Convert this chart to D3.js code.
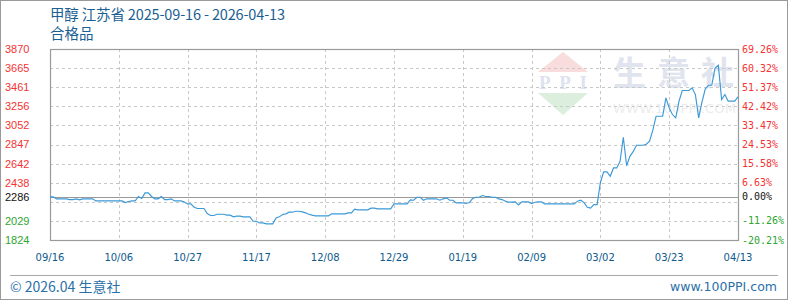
<!DOCTYPE html>
<html><head><meta charset="utf-8">
<script src="https://cdn.jsdelivr.net/npm/d3@7/dist/d3.min.js"></script>
<style>body{margin:0;background:#fff}svg{display:block}</style>
</head><body>
<svg id="c" width="788" height="300"></svg>
<script>
// ---- data ----
const titleText = "甲醇 江苏省 2025-09-16 - 2026-04-13";
const subtitleText = "合格品";
const xTickLabels = ["09/16","10/06","10/27","11/17","12/08","12/29","01/19","02/09","03/02","03/23","04/13"];
const xTickIndex = [0,21,42,63,84,105,126,147,168,189,210];
const leftTickValues = [3870,3665,3461,3256,3052,2847,2642,2438,2286,2029,1824];
const rightTickLabels = ["69.26%","60.32%","51.37%","42.42%","33.47%","24.53%","15.58%","6.63%","0.00%","-11.26%","-20.21%"];
const gridValues = [3665,3461,3256,3052,2847,2642,2438,2233,2029];
const baseValue = 2286;
// daily prices (index 0 = 2025-09-16)
const prices = [
2286,2286,2265,2265,2265,2265,2257,2257,2265,2254,
2265,2265,2265,2265,2243,2243,2243,2243,2243,2243,
2243,2243,2243,2225,2236,2243,2243,2290,2268,2329,
2329,2290,2265,2265,2290,2257,2257,2265,2243,2243,
2243,2232,2211,2211,2175,2161,2161,2161,2108,2086,
2086,2100,2100,2100,2090,2090,2072,2079,2079,2072,
2072,2072,2025,2025,2007,2007,1997,1997,1997,2061,
2072,2097,2104,2122,2122,2132,2132,2125,2115,2100,
2090,2083,2083,2083,2083,2083,2104,2104,2104,2104,
2104,2115,2115,2154,2147,2147,2147,2147,2165,2165,
2158,2158,2158,2158,2158,2211,2211,2211,2211,2211,
2254,2250,2282,2282,2250,2265,2265,2265,2265,2250,
2265,2275,2250,2250,2222,2222,2222,2215,2225,2268,
2282,2282,2300,2290,2290,2282,2282,2265,2257,2240,
2229,2229,2232,2200,2232,2232,2232,2215,2229,2232,
2232,2211,2211,2211,2211,2211,2211,2211,2211,2211,
2211,2240,2250,2225,2175,2165,2203,2203,2440,2554,
2554,2507,2596,2596,2668,2925,2620,2720,2770,2839,
2839,2839,2850,2882,3000,3150,3150,3150,3346,3239,
3168,3132,3311,3425,3425,3425,3454,3382,3132,3300,
3440,3482,3482,3667,3696,3328,3382,3311,3311,3311,
3357
];

// ---- layout ----
const svg = d3.select("#c");
const L = 50, R = 738, T = 49, B = 240;
const x = d3.scaleLinear().domain([0, 210]).range([L, R]);
const y = d3.scaleLinear().domain([1824, 3870]).range([B, T]);

// outer frame
svg.append("rect").attr("x",0.5).attr("y",0.5).attr("width",787).attr("height",299)
  .attr("fill","none").attr("stroke","#9a9a9a");

// watermark
const wm = svg.append("g");
wm.append("path").attr("d","M563,52 L588,72 L538,72 Z").attr("fill","#f9dcdc");
wm.append("text").attr("x",563).attr("y",89).attr("text-anchor","middle")
  .attr("font-family","Liberation Serif, serif").attr("font-weight","bold")
  .attr("font-size",19).attr("textLength",48).attr("fill","#dde3ef").text("PPI");
wm.append("path").attr("d","M538,93 L588,93 L563,115 Z").attr("fill","#dcefdf");
wm.append("text").attr("x",613).attr("y",85)
  .attr("font-family","Noto Sans CJK SC, sans-serif").attr("font-weight","bold")
  .attr("font-size",33).attr("letter-spacing",11).attr("fill","#dfe4ee").text("生意社");
wm.append("text").attr("x",613).attr("y",113)
  .attr("font-family","DejaVu Sans, sans-serif").attr("font-size",13)
  .attr("textLength",123).attr("fill","#ececec").text("WWW.100PPI.COM");

// grid
const g = svg.append("g");
g.selectAll(".hg").data(gridValues).join("line")
  .attr("x1",L).attr("x2",R)
  .attr("y1",d=>Math.round(y(d))+0.5).attr("y2",d=>Math.round(y(d))+0.5)
  .attr("stroke","#c8c8c8").attr("stroke-dasharray","3,3");
g.selectAll(".vg").data(xTickIndex.slice(1,-1)).join("line")
  .attr("y1",T).attr("y2",B)
  .attr("x1",d=>Math.round(x(d))+0.5).attr("x2",d=>Math.round(x(d))+0.5)
  .attr("stroke","#c8c8c8").attr("stroke-dasharray","3,3");

// base line
g.append("line").attr("x1",L).attr("x2",R)
  .attr("y1",Math.round(y(baseValue))+0.5).attr("y2",Math.round(y(baseValue))+0.5)
  .attr("stroke","#999").attr("stroke-width",1.2);

// plot frame
svg.append("rect").attr("x",L+0.5).attr("y",T+0.5).attr("width",R-L).attr("height",B-T)
  .attr("fill","none").attr("stroke","#9a9a9a").attr("stroke-width",1.2);

// line
const line = d3.line().x((d,i)=>x(i)).y(d=>y(d));
svg.append("path").datum(prices).attr("d",line)
  .attr("fill","none").attr("stroke","#3b99d8").attr("stroke-width",1.15);

// left axis labels
const col = v => v > baseValue ? "#f43333" : (v < baseValue ? "#2fa52f" : "#111");
svg.selectAll(".ly").data(leftTickValues).join("text")
  .attr("x",5).attr("y",d=>y(d)).attr("dy","0.36em")
  .attr("font-family","Liberation Sans, Arial, sans-serif").attr("font-size",11)
  .attr("fill",col).text(d=>d);

// right axis labels
svg.selectAll(".ry").data(leftTickValues).join("text")
  .attr("x",742).attr("y",d=>y(d)).attr("dy","0.36em")
  .attr("font-family","DejaVu Sans Mono, monospace").attr("font-size",10)
  .attr("fill",col).text((d,i)=>rightTickLabels[i]);

// x axis labels
svg.selectAll(".xl").data(xTickIndex).join("text")
  .attr("x",d=>x(d)).attr("y",261)
  .attr("text-anchor","middle")
  .attr("font-family","DejaVu Sans, sans-serif").attr("font-size",10)
  .attr("fill","#0d5a8c").text((d,i)=>xTickLabels[i]);

// title
svg.append("text").attr("x",50).attr("y",20)
  .attr("font-family","Noto Sans CJK SC, sans-serif").attr("font-size",14.5)
  .attr("textLength",235).attr("fill","#1b5f94").text(titleText);
svg.append("text").attr("x",50).attr("y",39)
  .attr("font-family","Noto Sans CJK SC, sans-serif").attr("font-size",14.5)
  .attr("fill","#1b5f94").text(subtitleText);

// footer
svg.append("line").attr("x1",10).attr("x2",778).attr("y1",275.5).attr("y2",275.5)
  .attr("stroke","#a8a8a8");
svg.append("text").attr("x",10).attr("y",292)
  .attr("font-family","Noto Sans CJK SC, sans-serif").attr("font-size",14)
  .attr("fill","#2a70a8").text("© 2026.04 生意社");
svg.append("text").attr("x",777).attr("y",291).attr("text-anchor","end")
  .attr("font-family","DejaVu Sans, sans-serif").attr("font-size",12.5)
  .attr("textLength",107).attr("fill","#2a70a8").text("www.100PPI.com");
</script>
</body></html>
